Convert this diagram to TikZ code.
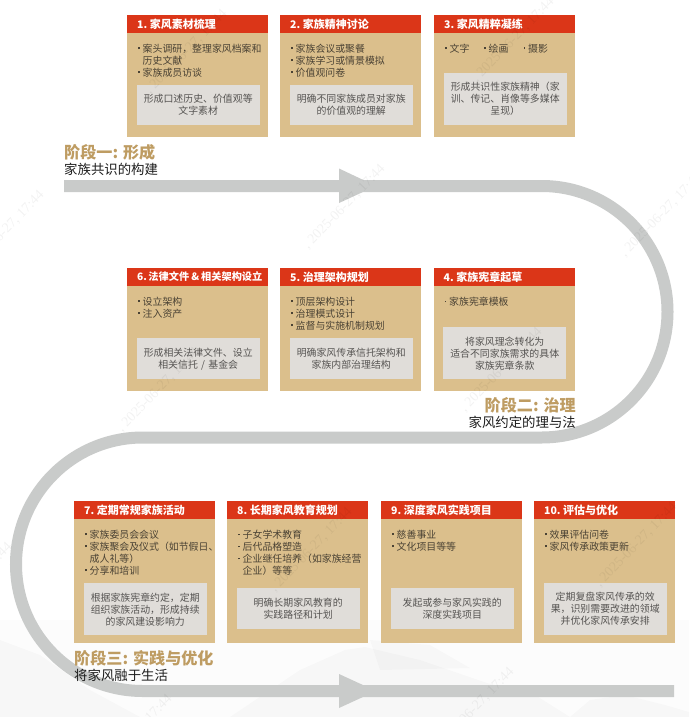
\documentclass[tikz,border=0pt]{standalone}
\usepackage{fontspec}
\setmainfont{Noto Sans CJK SC}
\newfontfamily\wmfont{Liberation Serif}
\definecolor{bandc}{HTML}{C9CBCA}
\definecolor{cardc}{HTML}{DBBF8C}
\definecolor{headc}{HTML}{DB3618}
\definecolor{notec}{HTML}{E0DDD9}
\definecolor{stagec}{HTML}{BE9C62}
\definecolor{listc}{HTML}{4A4234}
\definecolor{notetxt}{HTML}{565452}
\definecolor{subc}{HTML}{1E1E1E}
\tikzset{
  cardbox/.style={fill=cardc,minimum width=141pt,inner sep=0pt,anchor=north west},
  headbox/.style={fill=headc,text=white,minimum height=17.5pt,text width=141pt,inner xsep=0pt,inner ysep=0pt,align=left,anchor=north west,font=\fontsize{11}{12}\selectfont\bfseries},
  listtext/.style={inner sep=0pt,anchor=north west,align=left,text=listc,font=\fontsize{9.9}{12}\selectfont},
  notebox/.style={fill=notec,text=notetxt,minimum width=123pt,text width=119pt,inner xsep=2pt,inner ysep=0pt,align=center,anchor=north west,font=\fontsize{9.9}{12}\selectfont},
  stagetitle/.style={inner sep=0pt,text=stagec,font=\fontsize{16.1}{18}\selectfont\bfseries},
  stagesub/.style={inner sep=0pt,text=subc,font=\fontsize{13.4}{15}\selectfont},
  band/.style={draw=bandc,line width=12pt,line cap=butt},
  headtri/.style={fill=bandc,draw=none},
  wmark/.style={inner sep=0pt,anchor=east,rotate=46,text=black,opacity=0.05,font=\wmfont\fontsize{14}{14}\selectfont},
  mount/.style={fill=black,opacity=0.02,draw=none}
}
\newcommand{\bl}{\makebox[4.5pt][l]{\raisebox{3pt}{\rule{1.6pt}{1.6pt}}}}
\newcommand{\cont}{\hspace*{4.5pt}}
\newcommand{\hnum}[1]{{\fontsize{10.5}{12}\selectfont #1}\kern 2.5pt}
% name, x, y, height, title, list, note y, note height, note
\newcommand{\famcard}[9]{%
  \node[cardbox,minimum height=#4pt] (#1) at (#2,#3) {};
  \node[headbox] (#1h) at (#2,#3) {\hspace*{10pt}\mbox{#5}};
  \path (#2,#3) ++(11,28.5) node[listtext] (#1l) {#6};
  \path (#2,#7) ++(9.5,0) node[notebox,minimum height=#8pt] (#1n) {#9};
}
\begin{document}
\begin{tikzpicture}[x=1pt,y=-1pt]
\useasboundingbox (0,0) rectangle (689,717);
\fill[white] (0,0) rectangle (689,717);
\begin{scope}
\clip (0,0) rectangle (689,717);
\fill[black,opacity=0.012] (0,620) rectangle (689,717);
\fill[mount] (0,640) -- (40,655) -- (90,690) -- (140,717) -- (0,717) -- cycle;
\fill[mount] (230,717) -- (300,670) -- (345,650) -- (365,647) -- (420,660) -- (487,683) -- (535,695) -- (570,717) -- cycle;
\fill[mount] (570,717) -- (590,700) -- (625,695) -- (665,705) -- (689,712) -- (689,717) -- cycle;
\fill[mount] (370,640) -- (430,645) -- (470,668) -- (380,670) -- cycle;
\end{scope}
% flow band
\coordinate (b0) at (64,186);
\coordinate (b1) at (541.75,186);
\coordinate (b2) at (667.5,311.75);
\coordinate (b3) at (541.75,437.5);
\coordinate (b4) at (142.75,437.5);
\coordinate (b5) at (16,564.25);
\coordinate (b6) at (142.75,691);
\coordinate (b7) at (674,691);
\draw[band] (b0) -- (b1)
  .. controls (611.2,186) and (667.5,242.3) .. (b2)
  .. controls (667.5,381.2) and (611.2,437.5) .. (b3)
  -- (b4)
  .. controls (72.75,437.5) and (16,494.25) .. (b5)
  .. controls (16,634.25) and (72.75,691) .. (b6)
  -- (b7);
\coordinate (h1a) at (339,168.5);
\coordinate (h1b) at (339,203);
\coordinate (h1c) at (376,186);
\coordinate (h2a) at (339,674);
\coordinate (h2b) at (339,708);
\coordinate (h2c) at (376,691);
\fill[headtri] (h1a) -- (h1c) -- (h1b) -- cycle;
\fill[headtri] (h2a) -- (h2c) -- (h2b) -- cycle;
% row 1
\famcard{c1}{127}{15}{122}{\hnum{1.}家风素材梳理}{\bl 案头调研，整理家风档案和\\\cont 历史文献\\\bl 家族成员访谈}{85}{40}{形成口述历史、价值观等\\文字素材}
\famcard{c2}{280}{15}{122}{\hnum{2.}家族精神讨论}{\bl 家族会议或聚餐\\\bl 家族学习或情景模拟\\\bl 价值观问卷}{85}{40}{明确不同家族成员对家族\\的价值观的理解}
\famcard{c3}{434}{15}{122}{\hnum{3.}家风精粹凝练}{\makebox[39pt][l]{\bl 文字}\makebox[39.5pt][l]{\bl 绘画}\bl 摄影}{73}{52}{形成共识性家族精神（家\\训、传记、肖像等多媒体\\呈现）}
% row 2
\famcard{c6}{127}{268}{123}{\fontsize{10.2}{12}\selectfont 6.\kern 1.5pt 法律文件\kern 2pt\&\kern 2pt 相关架构设立}{\bl 设立架构\\\bl 注入资产}{338}{41}{形成相关法律文件、设立\\相关信托 / 基金会}
\famcard{c5}{280}{268}{123}{\hnum{5.}治理架构规划}{\bl 顶层架构设计\\\bl 治理模式设计\\\bl 监督与实施机制规划}{338}{41}{明确家风传承信托架构和\\家族内部治理结构}
\famcard{c4}{433.5}{268}{123}{\hnum{4.}家族宪章起草}{\bl 家族宪章模板}{327}{52}{将家风理念转化为\\适合不同家族需求的具体\\家族宪章条款}
% row 3
\famcard{c7}{74}{501}{142}{\hnum{7.}定期常规家族活动}{\bl 家族委员会会议\\\bl 家族聚会及仪式（如节假日、\\\cont 成人礼等）\\\bl 分享和培训}{583}{52}{根据家族宪章约定，定期\\组织家族活动，形成持续\\的家风建设影响力}
\famcard{c8}{227}{501}{142}{\hnum{8.}长期家风教育规划}{\bl 子女学术教育\\\bl 后代品格塑造\\\bl 企业继任培养（如家族经营\\\cont 企业）等等}{588}{41}{明确长期家风教育的\\实践路径和计划}
\famcard{c9}{381}{501}{142}{\hnum{9.}深度家风实践项目}{\bl 慈善事业\\\bl 文化项目等等}{588}{41}{发起或参与家风实践的\\深度实践项目}
\famcard{c10}{534}{501}{142}{\hnum{10.}评估与优化}{\bl 效果评估问卷\\\bl 家风传承政策更新}{583}{52}{定期复盘家风传承的效\\果，识别需要改进的领域\\并优化家风传承安排}
% stage labels
\node[stagetitle,anchor=base west] (s1t) at (64,158.5) {阶段一: 形成};
\node[stagesub,anchor=base west] (s1s) at (64,174) {家族共识的构建};
\node[stagetitle,anchor=base east] (s2t) at (576,411) {阶段二: 治理};
\node[stagesub,anchor=base east] (s2s) at (576,427) {家风约定的理与法};
\node[stagetitle,anchor=base west] (s3t) at (74,664) {阶段三: 实践与优化};
\node[stagesub,anchor=base west] (s3s) at (74,680.5) {将家风融于生活};
% watermark
\begin{scope}
\clip (0,0) rectangle (689,717);
\foreach \n/\wx/\wy in {a/225/12,b/383/167,d/540/330,e/675/505,f/42/193,g/197/350,h/350/510,i/512/670,j/10/545,k/170/697,l/552/0,m/700/175}
  \node[wmark] (w\n) at (\wx,\wy) {, 2025-06-27, 17:44};
\end{scope}
\end{tikzpicture}
\end{document}
